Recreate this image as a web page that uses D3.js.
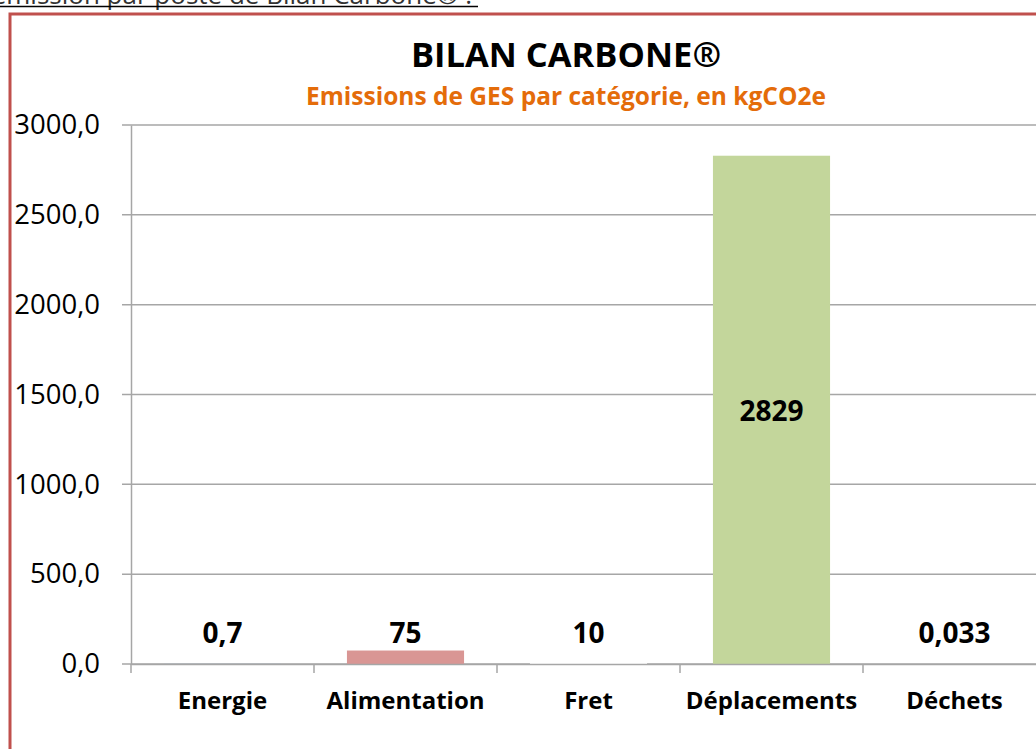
<!DOCTYPE html>
<html><head><meta charset="utf-8">
<script src="https://cdn.jsdelivr.net/npm/d3@7"></script>
<style>body{margin:0;background:#fff;overflow:hidden}svg{display:block}</style>
</head><body>
<svg id="c" width="1036" height="749"></svg>
<script>
const categories = ["Energie","Alimentation","Fret","Déplacements","Déchets"];
const values = [0.7, 75, 10, 2829, 0.033];
const valueLabels = ["0,7","75","10","2829","0,033"];
const barColors = ["#95b3d7","#d99694","#ffffff","#c3d69b","#93cddd"];
const yTicks = [0,500,1000,1500,2000,2500,3000];
const title = "BILAN CARBONE®";
const subtitle = "Emissions de GES par catégorie, en kgCO2e";
const heading = "Répartition des émission par poste de Bilan Carbone® :";

const FONT = "'Open Sans', sans-serif";
const svg = d3.select("#c");

// clipped heading above the frame
svg.append("text").attr("x",472).attr("y",4).attr("text-anchor","end").attr("font-family",FONT)
  .attr("font-size",26).attr("fill","#333").text(heading);
svg.append("line").attr("x1",0).attr("x2",478).attr("y1",6.5).attr("y2",6.5)
  .attr("stroke","#000").attr("stroke-width",1.5);

// frame
svg.append("rect").attr("x",10).attr("y",14).attr("width",1100).attr("height",800)
  .attr("fill","#fff").attr("stroke","#c0504d").attr("stroke-width",3);

const x = d3.scaleBand().domain(categories).range([131,1046]).paddingInner(0.36).paddingOuter(0.18);
const y = d3.scaleLinear().domain([0,3000]).range([664,125]);

// gridlines
svg.append("g").selectAll("line").data(yTicks).join("line")
  .attr("x1",122).attr("x2",1036).attr("y1",d=>y(d)).attr("y2",d=>y(d))
  .attr("stroke","#a6a6a6").attr("stroke-width",1.5);

// bars
svg.append("g").selectAll("rect").data(values).join("rect")
  .attr("x",(d,i)=>x(categories[i])).attr("width",x.bandwidth())
  .attr("y",d=>y(d)).attr("height",d=>y(0)-y(d))
  .attr("fill",(d,i)=>barColors[i]);

// y axis
const yAxis = d3.axisLeft(y).tickValues(yTicks).tickSize(0).tickPadding(31)
  .tickFormat(d=>d3.format(".1f")(d).replace(".",","));
const gy = svg.append("g").attr("transform","translate(131,0)").call(yAxis);
gy.select(".domain").attr("stroke","#a6a6a6").attr("stroke-width",1.5);
gy.selectAll("text").attr("font-family",FONT).attr("font-size",27.5).attr("fill","#000");

// x axis
const bounds = d3.range(categories.length+1).map(i=>131+i*(915/5));
const xAxis = d3.axisBottom(x).tickSize(0).tickPadding(0);
const gx = svg.append("g").attr("transform","translate(0,664)").call(xAxis);
gx.select(".domain").attr("stroke","#a6a6a6").attr("stroke-width",1.5);
gx.selectAll("text").attr("y",37).attr("dy","0.35em").attr("font-family",FONT).attr("font-size",24).attr("font-weight","bold").attr("fill","#000");
svg.append("g").selectAll("line").data(bounds).join("line")
  .attr("x1",d=>d).attr("x2",d=>d).attr("y1",664).attr("y2",673)
  .attr("stroke","#a6a6a6").attr("stroke-width",1.5);

// data labels
svg.append("g").selectAll("text").data(values).join("text")
  .attr("x",(d,i)=>x(categories[i])+x.bandwidth()/2)
  .attr("y",d=>{const h=y(0)-y(d); return h>60 ? (y(d)+y(0))/2 + 1 : y(0)-31;})
  .attr("dy","0.35em").attr("text-anchor","middle")
  .attr("font-family",FONT).attr("font-size",28).attr("font-weight","bold").attr("fill","#000")
  .text((d,i)=>valueLabels[i]);

// titles
svg.append("text").attr("x",566).attr("y",67).attr("text-anchor","middle")
  .attr("font-family",FONT).attr("font-size",34.5).attr("font-weight","bold").attr("fill","#000").text(title);
svg.append("text").attr("x",566).attr("y",105).attr("text-anchor","middle")
  .attr("font-family",FONT).attr("font-size",24.5).attr("font-weight","bold").attr("fill","#e46c0a").text(subtitle);
</script>
</body></html>
